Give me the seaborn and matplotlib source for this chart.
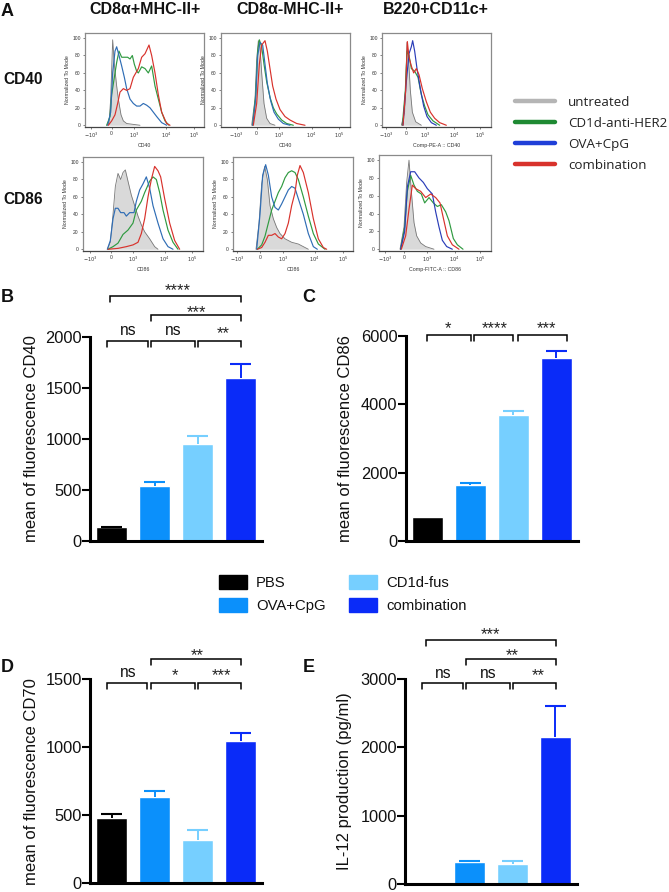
import matplotlib
matplotlib.use("Agg")
import matplotlib.pyplot as plt
from matplotlib.lines import Line2D
from matplotlib.patches import Patch
import seaborn as sns
import pandas as pd

sns.set_theme(style="white")
plt.rcParams['font.family'] = ['Liberation Sans', 'DejaVu Sans']

W, H = 669, 892
groups = ["PBS", "OVA+CpG", "CD1d-fus", "combination"]
bar_colors = ["#000000", "#0b90fb", "#76cfff", "#0a2bf8"]

cd40_means = [137, 538, 949, 1598]
cd40_tops = [140, 577, 1034, 1732]
cd86_means = [693, 1640, 3678, 5366]
cd86_tops = [693, 1688, 3815, 5570]
cd70_means = [483, 632, 316, 1047]
cd70_tops = [512, 679, 395, 1100]
il12_means = [0, 317, 288, 2156]
il12_tops = [0, 341, 337, 2600]

# brackets: start group, end group, value level, label, label position, label height in px
cd40_br = [(-0.03, 3.02, 2402, "****", 1.55, 8), (0.93, 3.02, 2212, "***", 1.98, 5),
           (-0.11, 0.84, 1964, "ns", 0.39, 10), (0.93, 1.94, 1964, "ns", 1.43, 10),
           (2.0, 3.02, 1964, "**", 2.6, 10)]
cd86_br = [(0, 1.02, 6020, "*", 0.48, 9), (1.09, 2.0, 6020, "****", 1.56, 9),
           (2.12, 3.25, 6020, "***", 2.77, 9)]
cd70_br = [(-0.11, 0.83, 1470, "ns", 0.38, 10.5), (0.93, 1.94, 1470, "*", 1.465, 10),
           (2.02, 3.02, 1470, "***", 2.55, 10), (0.93, 3.02, 1647, "**", 1.99, 6)]
il12_br = [(-0.1, 0.84, 2937, "ns", 0.38, 10), (0.93, 1.95, 2937, "ns", 1.43, 10),
           (2.02, 3.02, 2937, "**", 2.59, 10), (0.93, 3.02, 3288, "**", 1.99, 6),
           (-0.02, 3.02, 3570, "***", 1.49, 8)]

# flow histograms: (channel position, normalized to mode)
h1 = dict(
    gray=[(-15,0),(-8,2),(-3,30),(3,98),(8,70),(15,45),(20,30),(28,12),(35,5),(45,2),(65,1),(85,0)],
    green=[(-15,0),(-5,10),(0,35),(8,55),(15,72),(22,85),(30,78),(38,78),(48,78),(55,76),(62,80),(68,70),(75,62),(80,60),(90,67),(100,65),(110,60),(120,68),(130,45),(140,30),(150,15),(160,5),(172,0)],
    blue=[(-12,0),(-3,15),(3,60),(10,85),(15,90),(22,80),(30,68),(38,55),(45,42),(55,30),(65,25),(75,22),(85,22),(95,25),(105,23),(115,20),(125,15),(135,10),(150,3),(165,0)],
    red=[(-10,0),(0,5),(10,12),(18,25),(25,38),(35,42),(45,40),(55,42),(65,55),(80,65),(90,78),(100,82),(112,92),(120,80),(130,60),(140,35),(150,15),(165,2),(175,0)])
h2 = dict(
    gray=[(-15,0),(-5,30),(0,75),(5,97),(10,90),(15,60),(22,25),(30,8),(40,2),(55,0)],
    green=[(-12,0),(-3,35),(3,85),(8,98),(15,90),(22,70),(30,50),(40,32),(50,20),(60,13),(75,6),(90,2),(110,0)],
    blue=[(-12,0),(-3,30),(3,80),(10,95),(18,92),(25,70),(32,48),(42,28),(52,15),(65,7),(80,2),(100,0)],
    red=[(-10,0),(0,25),(8,70),(15,92),(25,97),(32,85),(40,65),(48,45),(58,30),(70,18),(85,10),(100,6),(120,2),(145,0)])
h3 = dict(
    gray=[(-15,0),(-5,15),(0,70),(2,95),(6,80),(12,40),(18,15),(28,4),(45,0)],
    green=[(-12,0),(-3,40),(2,85),(8,80),(15,65),(25,62),(35,55),(45,35),(55,22),(65,12),(80,5),(100,0)],
    blue=[(-10,0),(0,50),(8,82),(15,90),(19,97),(25,85),(32,65),(42,42),(52,22),(62,10),(75,3),(90,0)],
    red=[(-10,0),(-2,40),(3,96),(8,78),(15,68),(22,60),(30,65),(38,58),(48,42),(60,27),(72,15),(85,8),(100,3),(120,0)])
h4 = dict(
    gray=[(-12,0),(-3,8),(5,40),(12,72),(20,87),(28,80),(35,88),(42,91),(50,78),(60,62),(70,50),(80,38),(90,28),(100,20),(115,12),(130,3),(140,0)],
    blue=[(-12,0),(-3,10),(5,35),(12,47),(20,47),(28,42),(38,42),(45,38),(55,42),(68,42),(75,55),(85,68),(95,75),(105,83),(115,70),(125,50),(140,30),(155,12),(170,3),(185,0)],
    green=[(-10,0),(5,3),(20,7),(35,17),(50,22),(65,30),(75,45),(90,55),(100,65),(115,78),(125,83),(135,80),(145,65),(155,45),(170,22),(185,8),(200,0)],
    red=[(-10,0),(20,1),(45,3),(65,5),(80,8),(90,18),(100,35),(110,60),(120,80),(130,95),(140,90),(148,83),(160,58),(175,30),(190,10),(205,0)])
h5 = dict(
    gray=[(-12,0),(-3,30),(5,75),(14,95),(22,80),(30,50),(40,35),(50,25),(60,18),(75,12),(95,8),(115,6),(130,3),(145,0)],
    blue=[(-10,0),(0,40),(8,85),(17,97),(25,85),(35,60),(45,48),(55,45),(65,52),(75,60),(85,68),(95,72),(105,70),(115,58),(130,40),(145,18),(160,3),(172,0)],
    green=[(-8,0),(5,5),(15,15),(25,30),(35,45),(45,55),(55,65),(65,72),(75,82),(85,88),(95,90),(105,88),(115,80),(130,60),(145,38),(160,18),(175,6),(195,0)],
    red=[(-8,0),(5,2),(15,8),(25,16),(35,16),(45,18),(55,14),(65,12),(75,18),(85,30),(95,50),(105,65),(112,85),(120,96),(130,88),(145,65),(160,35),(175,12),(190,2),(200,0)])
h6 = dict(
    gray=[(-12,0),(0,25),(8,75),(15,100),(22,65),(30,30),(38,15),(50,7),(65,3),(90,0)],
    green=[(-10,0),(2,25),(10,65),(20,83),(30,72),(40,65),(52,62),(62,52),(75,58),(88,52),(100,48),(112,50),(125,42),(135,32),(148,12),(160,5),(177,0)],
    blue=[(-10,0),(2,20),(10,70),(20,87),(32,87),(45,80),(58,75),(70,68),(85,62),(95,42),(105,25),(115,10),(128,3),(145,0)],
    red=[(-8,0),(5,15),(15,45),(25,72),(35,68),(50,65),(65,58),(80,62),(95,58),(108,52),(118,35),(130,15),(145,5),(165,0)])

fig = plt.figure(figsize=(W / 100, H / 100), dpi=100, facecolor="white")


def ax_px(l, t, r, b):
    return fig.add_axes([l / W, 1 - b / H, (r - l) / W, (b - t) / H])


def ftext(x, y, s, **kw):
    kw.setdefault("ha", "center")
    kw.setdefault("va", "center")
    fig.text(x / W, 1 - y / H, s, **kw)


def hist_panel(box, data, xlim, ticks, xlabel, blue):
    ax = ax_px(*box)
    ax.set_facecolor("white")
    g = pd.DataFrame(data["gray"], columns=["x", "y"])
    ax.fill_between(g["x"], g["y"], color="#d9d9d9", lw=0)
    sns.lineplot(data=g, x="x", y="y", color="#777777", lw=0.6, estimator=None, sort=False, ax=ax)
    for key, col in [("green", "#2f9a40"), ("blue", blue), ("red", "#d8322c")]:
        d = pd.DataFrame(data[key], columns=["x", "y"])
        sns.lineplot(data=d, x="x", y="y", color=col, lw=0.85, estimator=None, sort=False, ax=ax)
    ax.set_xlim(*xlim)
    ax.set_ylim(-2, 105.8)
    ax.set_xticks(ticks)
    ax.set_xticklabels([r"$-10^3$", "0", r"$10^3$", r"$10^4$", r"$10^5$"], fontsize=3.6, color="#333333")
    ax.set_yticks([0, 20, 40, 60, 80, 100])
    ax.set_yticklabels(["0", "20", "40", "60", "80", "100"], fontsize=3.6, color="#333333")
    ax.tick_params(length=1.5, width=0.4, pad=1.5, color="#222222", left=True, bottom=True)
    ax.set_xlabel(xlabel, fontsize=3.8, labelpad=1.5, color="#333333")
    ax.set_ylabel("Normalized To Mode", fontsize=3.8, labelpad=1.5, color="#333333")
    for s in ax.spines.values():
        s.set_color("#8a8a8a")
        s.set_linewidth(0.9)
    ax.spines["bottom"].set_color("#444444")
    return ax


blue_a = "#2f6db5"
blue_b = "#2a3db8"
hist_panel((85, 33, 204, 127), h1, (-80, 277), [-62, 0, 68, 163, 247], "CD40", blue_a)
hist_panel((221, 33, 350, 127), h2, (-107, 280), [-60, 0, 68, 165, 248], "CD40", blue_a)
hist_panel((382, 33, 491, 127), h3, (-73, 254), [-60, 0, 58, 144, 222], "Comp-PE-A :: CD40", blue_b)
hist_panel((83, 157, 203, 251), h4, (-85, 275), [-63, 0, 65, 160, 243], "CD86", blue_a)
hist_panel((233, 157, 353, 251), h5, (-81, 279), [-69, 0, 69, 164, 249], "CD86", blue_a)
hist_panel((379, 155, 491, 251), h6, (-75, 261), [-56, 0, 69, 152, 229], "Comp-FITC-A :: CD86", blue_b)


def bar_panel(box, means, tops, ymax, yticks, ylabel, brackets, label_x):
    ax = ax_px(*box)
    df = pd.DataFrame({"group": groups, "value": means})
    sns.barplot(data=df, x="group", y="value", hue="group", palette=bar_colors, width=0.73,
                legend=False, saturation=1, ax=ax)
    for i, (m, t) in enumerate(zip(means, tops)):
        if t > m:
            ax.vlines(i, m, t, color=bar_colors[i], lw=1.4, zorder=1)
            ax.hlines(t, i - 0.245, i + 0.245, color=bar_colors[i], lw=1.5, zorder=1)
    ax.set_xlim(-0.5, 3.5)
    ax.set_ylim(0, ymax)
    ax.set_yticks(yticks)
    ax.set_yticklabels([str(v) for v in yticks], fontsize=11.8, color="#111111")
    ax.set_xticks([])
    ax.set_xlabel("")
    ax.set_ylabel(ylabel, fontsize=12, color="#111111")
    ax.yaxis.set_label_coords((label_x - box[0]) / (box[2] - box[0]), 0.5)
    ax.tick_params(axis="y", length=5.5, width=1.5, pad=0.5, color="black", left=True)
    sns.despine(ax=ax)
    for s in ("left", "bottom"):
        ax.spines[s].set_linewidth(2.2)
        ax.spines[s].set_color("black")
    h = box[3] - box[1]
    unit = ymax / h
    for x0, x1, lvl, lab, lx, dy in brackets:
        ax.plot([x0, x0, x1, x1], [lvl - 6 * unit, lvl, lvl, lvl - 6 * unit], color="black", lw=1.1,
                clip_on=False, solid_joinstyle="miter")
        if lab == "ns":
            ax.text(lx, lvl + dy * unit, lab, ha="center", va="center", fontsize=11.2, color="#111111")
        else:
            # the star glyph sits about 7 px above the baseline of its text
            ax.text(lx, lvl + (dy - 7) * unit, lab, ha="center", va="baseline", fontsize=12,
                    color="#222222")
    return ax


bar_panel((90, 337, 262, 541), cd40_means, cd40_tops, 2000, [0, 500, 1000, 1500, 2000],
          "mean of fluorescence CD40", cd40_br, 38.5)
bar_panel((405.7, 336, 577.7, 541), cd86_means, cd86_tops, 6000, [0, 2000, 4000, 6000],
          "mean of fluorescence CD86", cd86_br, 353.5)
bar_panel((90, 679, 262, 883.3), cd70_means, cd70_tops, 1500, [0, 500, 1000, 1500],
          "mean of fluorescence CD70", cd70_br, 38.5)
bar_panel((405, 679, 577, 884), il12_means, il12_tops, 3000, [0, 1000, 2000, 3000],
          "IL-12 production (pg/ml)", il12_br, 352)

for s, x, y in [("A", 7, 12), ("B", 7, 297), ("C", 309, 297), ("D", 7, 667), ("E", 309, 667)]:
    ftext(x, y, s, fontsize=13, fontweight="bold", color="#111111")
for s, x in [("CD8α+MHC-II+", 145), ("CD8α-MHC-II+", 290), ("B220+CD11c+", 436)]:
    ftext(x, 9, s, fontsize=11.5, fontweight="bold", color="#111111")
ftext(23, 80, "CD40", fontsize=11.2, fontweight="bold", color="#111111")
ftext(23, 200, "CD86", fontsize=11.2, fontweight="bold", color="#111111")

line_handles = [Line2D([], [], color=c, lw=3.2) for c in ["#b5b5b5", "#1f8a33", "#1f3fd8", "#d8322c"]]
fig.legend(line_handles, ["untreated", "CD1d-anti-HER2", "OVA+CpG", "combination"],
           loc="upper left", bbox_to_anchor=(515 / W, 1 - 96 / H), frameon=False, borderpad=0,
           borderaxespad=0, handlelength=3.0, handletextpad=1.0, labelspacing=0.6,
           prop={"family": "Open Sans", "size": 9.6}, labelcolor="#222222")

patch_handles = [Patch(color=c) for c in bar_colors]
fig.legend(patch_handles, groups, loc="upper left", ncol=2, bbox_to_anchor=(219 / W, 1 - 575 / H),
           frameon=False, borderpad=0, borderaxespad=0, handlelength=1.88, handleheight=1.07,
           handletextpad=0.6, labelspacing=0.54, columnspacing=1.6, fontsize=10.7, labelcolor="#111111")

fig.savefig("out.png", dpi=100)
